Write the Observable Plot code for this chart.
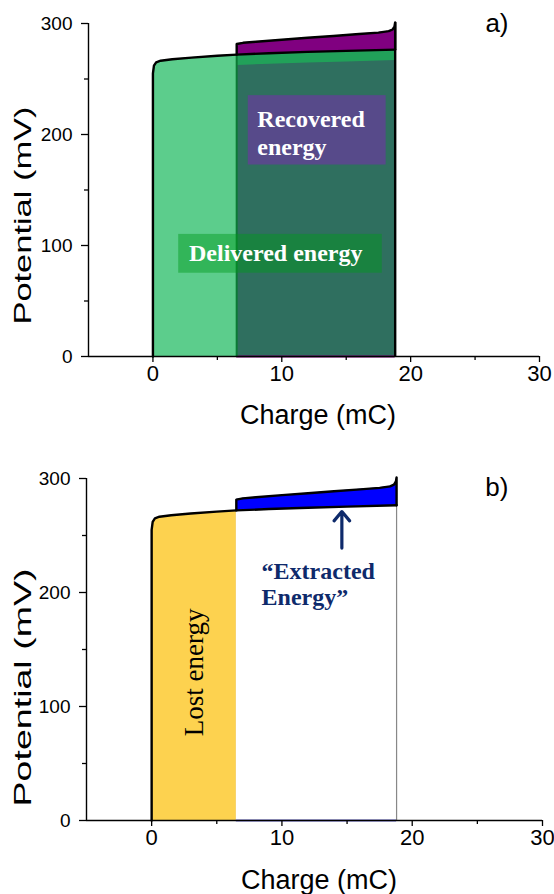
<!DOCTYPE html>
<html>
<head>
<meta charset="utf-8">
<script src="https://cdn.jsdelivr.net/npm/d3@7"></script>
<script src="https://cdn.jsdelivr.net/npm/@observablehq/plot@0.6"></script>
<style>
  body { margin: 0; background: #fff; }
  #chart { width: 554px; }
  #chart svg { display: block; }
</style>
</head>
<body>
<div id="chart"></div>
<script>
// Discharge curve (lower branch): charge in mC, potential in mV
const lowerQ = [0, 0, 0.08, 0.25, 0.6, 1.5, 3, 5, 6.5, 9, 12, 15, 18.8];
const lowerV = [0, 255, 262, 265, 266.5, 267.8, 269.3, 270.9, 272, 273.2, 274.4, 275.3, 276.5];

// Recharge curve (upper branch)
const upperQ = [6.5, 6.5, 7, 8, 10, 12, 14, 16, 17.5, 18.3, 18.6, 18.75, 18.8, 18.8];
const upperV = [272, 281.5, 282.6, 283.6, 285.4, 287.1, 288.8, 290.5, 291.8, 293.1, 294.6, 297.5, 301, 276.5];

// Charge where the recharge starts, and end of the cycle
const splitQ = 6.5;
const endQ = 18.8;

// Arrow pointing at the extracted energy
const arrowQ = [14.6];
const arrowFromV = [239];
const arrowToV = [271];

// Axes
const xDomain = [-5, 30];
const yDomain = [0, 300];
const xTicks = [0, 10, 20, 30];
const xMinor = [5, 15, 25];
const yTicks = [0, 100, 200, 300];
const yMinor = [50, 150, 250];

const lower = lowerQ.map((q, i) => ({q, v: lowerV[i]}));
const upper = upperQ.map((q, i) => ({q, v: upperV[i]}));
const lowerLeft = lower.filter(d => d.q <= splitQ);
const lowerRight = lower.filter(d => d.q >= splitQ);
const vAtSplit = lowerV[lowerQ.indexOf(splitQ)];
const vEnd = lowerV[lowerV.length - 1];
const vPeak = d3.max(upperV);

const sans = "'Liberation Sans', Arial, Helvetica, sans-serif";
const serif = "'Liberation Serif', 'Times New Roman', serif";

// filled region between the zero line and a curve (no stacking)
const fillUnder = (data, fill, extra = {}) =>
  Plot.areaY(data, {x: "q", y1: 0, y2: "v", fill, ...extra});

function axes() {
  return [
    Plot.ruleX([xDomain[0]], {y1: yDomain[0], y2: yDomain[1], stroke: "#000", strokeWidth: 1.4}),
    Plot.ruleY([yDomain[0]], {x1: xDomain[0], x2: xDomain[1], stroke: "#000", strokeWidth: 1.4}),
    Plot.axisX({ticks: xTicks, tickSize: 6, tickPadding: 3, fontSize: 22, label: null, strokeWidth: 1.3}),
    Plot.axisX({ticks: xMinor, tickSize: 4, tickFormat: () => "", label: null, strokeWidth: 1.3}),
    Plot.axisY({ticks: yTicks, tickSize: 7, tickPadding: 9, fontSize: 19, label: null, strokeWidth: 1.3}),
    Plot.axisY({ticks: yMinor, tickSize: 4, tickFormat: () => "", label: null, strokeWidth: 1.3})
  ];
}

function titles(xDx, xDy, yPos, yDx) {
  return [
    Plot.text(["Charge (mC)"], {text: d => d, frameAnchor: "bottom", dx: xDx, dy: xDy,
      lineAnchor: "middle", fontSize: 27, fill: "#000"}),
    Plot.text(["Potential (mV)"], {text: d => d, frameAnchor: "left", y: yPos, dx: yDx,
      rotate: -90, textAnchor: "middle", lineAnchor: "middle", fontSize: 24, fill: "#000"})
  ];
}

const style = {fontFamily: sans, fontSize: "18px", color: "#000", background: "#fff", overflow: "visible"};

// Panel a: delivered vs recovered energy
const panelA = Plot.plot({
  width: 554, height: 447,
  marginLeft: 88, marginRight: 15, marginTop: 23, marginBottom: 91,
  x: {domain: xDomain}, y: {domain: yDomain},
  style,
  marks: [
    fillUnder(upper, "#800080"),
    fillUnder(lowerRight, "#2f6f5f"),
    fillUnder(lowerLeft, "#5ccd8c"),
    Plot.line(lowerRight, {x: "q", y: "v", stroke: "#1faa58", strokeWidth: 10, dy: 5.5,
      strokeOpacity: 0.85, strokeLinecap: "butt"}),
    Plot.ruleY([0], {x1: splitQ, x2: endQ, stroke: "#800080", strokeWidth: 2}),
    Plot.ruleX([splitQ], {y1: 0, y2: vAtSplit, stroke: "#0b7a35", strokeWidth: 2}),
    Plot.line(upper, {x: "q", y: "v", stroke: "#000", strokeWidth: 2.4}),
    Plot.line(lower, {x: "q", y: "v", stroke: "#000", strokeWidth: 2.4}),
    Plot.ruleX([endQ], {y1: 0, y2: vPeak, stroke: "#000", strokeWidth: 2.4}),
    // labels
    Plot.rect([0], {x1: 7.4, x2: 18.1, y1: 172.5, y2: 235, fill: "#574a8a"}),
    Plot.text(["Recovered\nenergy"], {text: d => d, x: 8.1, y: 224, textAnchor: "start", lineAnchor: "top",
      lineHeight: 1.15, fontFamily: serif, fontWeight: "bold", fontSize: 24, fill: "#fff"}),
    Plot.rect([0], {x1: 2.0, x2: 17.8, y1: 75, y2: 110, fill: "#009a1a", fillOpacity: 0.45}),
    Plot.text(["Delivered energy"], {text: d => d, x: 2.8, y: 93, textAnchor: "start", lineAnchor: "middle",
      fontFamily: serif, fontWeight: "bold", fontSize: 24, fill: "#fff"}),
    Plot.text(["a)"], {text: d => d, x: 25.8, y: 292, textAnchor: "start", lineAnchor: "bottom", fontSize: 26, fill: "#000"}),
    ...axes(),
    ...titles(4, 59, 127, -65)
  ]
});

// Panel b: lost vs extracted energy
const panelB = Plot.plot({
  width: 554, height: 447,
  marginLeft: 86, marginRight: 12, marginTop: 31, marginBottom: 74,
  x: {domain: xDomain}, y: {domain: yDomain},
  style,
  marks: [
    fillUnder(upper, "#0000ff"),
    fillUnder(lowerRight, "#fff"),
    fillUnder(lowerLeft, "#fdd24f"),
    Plot.ruleY([0], {x1: splitQ, x2: endQ, stroke: "#6b6bd6", strokeWidth: 2}),
    Plot.ruleX([endQ], {y1: 0, y2: vEnd, stroke: "#888", strokeWidth: 1.2}),
    Plot.line(upper, {x: "q", y: "v", stroke: "#000", strokeWidth: 2.4}),
    Plot.line(lower, {x: "q", y: "v", stroke: "#000", strokeWidth: 2.4}),
    Plot.arrow(arrowQ, {x1: d => d, x2: d => d, y1: (d, i) => arrowFromV[i], y2: (d, i) => arrowToV[i],
      stroke: "#0e2a6b", strokeWidth: 3.2, headLength: 13, headAngle: 80}),
    Plot.text(["\u201CExtracted\nEnergy\u201D"], {text: d => d, x: 8.44, y: 229, textAnchor: "start", lineAnchor: "top",
      lineHeight: 1.12, fontFamily: serif, fontWeight: "bold", fontSize: 24, fill: "#0e2a6b"}),
    Plot.text(["Lost energy"], {text: d => d, x: 3.3, y: 130, rotate: -90, textAnchor: "middle", lineAnchor: "middle",
      fontFamily: serif, fontSize: 27, fill: "#000"}),
    Plot.text(["b)"], {text: d => d, x: 25.6, y: 285, textAnchor: "start", lineAnchor: "bottom", fontSize: 26, fill: "#000"}),
    ...axes(),
    ...titles(4.5, 60, 116.7, -63.5)
  ]
});

// The vertical axis titles run a little longer than their glyph height
function stretchTitle(svg, length) {
  svg.querySelectorAll("text").forEach(t => {
    if (t.textContent === "Potential (mV)") {
      t.setAttribute("textLength", length);
      t.setAttribute("lengthAdjust", "spacingAndGlyphs");
    }
  });
}
stretchTitle(panelA, 218);
stretchTitle(panelB, 238);

const root = document.getElementById("chart");
root.append(panelA, panelB);
</script>
</body>
</html>
